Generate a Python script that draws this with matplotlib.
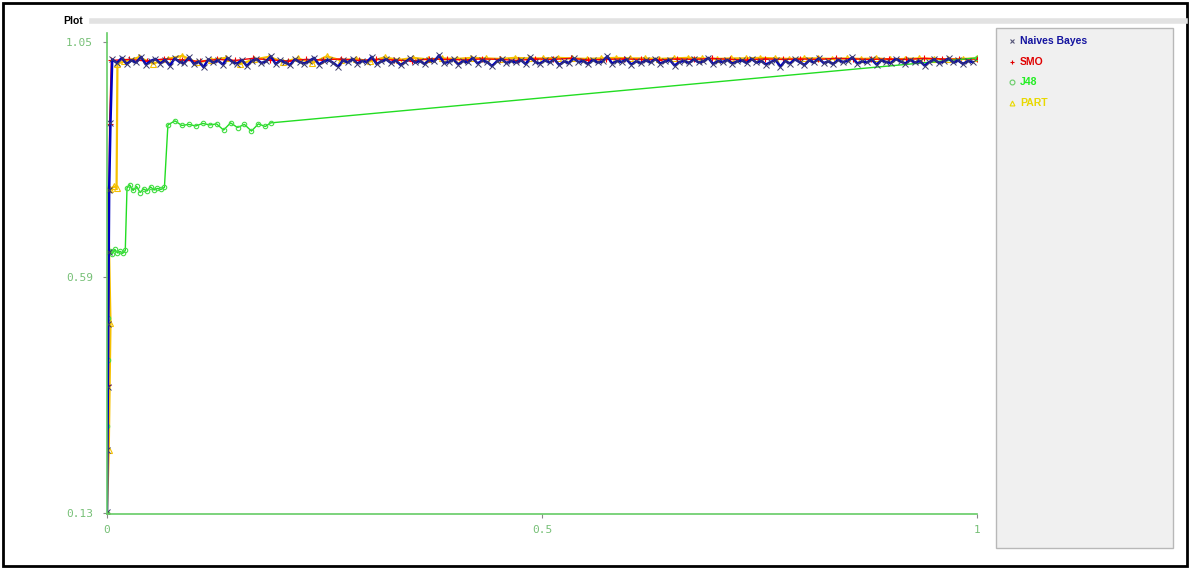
import matplotlib
matplotlib.use("Agg")
import matplotlib.pyplot as plt
import numpy as np
from matplotlib.lines import Line2D
from matplotlib.patches import Rectangle

W, H = 1190, 569

# --- data ---
series_names = ["Naives Bayes", "SMO", "J48", "PART"]

nb_head_x = [0.0, 0.0005, 0.001, 0.0015, 0.002, 0.0025, 0.004]
nb_head_y = [0.132, 0.253, 0.376, 0.50, 0.64, 0.761, 0.892]
nb_tail_y = [
    1.016, 1.009, 1.019, 1.007, 1.014, 1.010, 1.021, 1.006, 1.013, 1.017,
    1.008, 1.015, 1.004, 1.018, 1.011, 1.009, 1.020, 1.007, 1.012, 1.001,
    1.016, 1.010, 1.014, 1.006, 1.019, 1.011, 1.008, 1.015, 1.003, 1.013,
    1.017, 1.009, 1.012, 1.022, 1.007, 1.014, 1.010, 1.005, 1.016, 1.011,
    1.008, 1.013, 1.019, 1.006, 1.012, 1.015, 1.009, 1.002, 1.014, 1.010,
    1.017, 1.008, 1.013, 1.011, 1.021, 1.007, 1.012, 1.016, 1.009, 1.014,
    1.005, 1.011, 1.018, 1.010, 1.013, 1.007, 1.015, 1.012, 1.024, 1.009,
    1.011, 1.016, 1.006, 1.013, 1.010, 1.019, 1.008, 1.014, 1.011, 1.003,
    1.012, 1.017, 1.009, 1.013, 1.010, 1.015, 1.007, 1.020, 1.011, 1.008,
    1.014, 1.010, 1.016, 1.005, 1.012, 1.009, 1.018, 1.011, 1.013, 1.007,
    1.015, 1.010, 1.012, 1.022, 1.008, 1.013, 1.011, 1.016, 1.006, 1.012,
    1.009, 1.014, 1.010, 1.017, 1.008, 1.012, 1.015, 1.004, 1.011, 1.013,
    1.009, 1.016, 1.010, 1.012, 1.019, 1.007, 1.013, 1.011, 1.015, 1.008,
    1.012, 1.014, 1.009, 1.017, 1.010, 1.013, 1.006, 1.011, 1.015, 1.002,
    1.013, 1.008, 1.016, 1.011, 1.005, 1.014, 1.010, 1.018, 1.009, 1.012,
    1.007, 1.015, 1.011, 1.013, 1.020, 1.008, 1.012, 1.010, 1.016, 1.006,
    1.014, 1.011, 1.009, 1.017, 1.012, 1.008, 1.015, 1.010, 1.013, 1.004,
    1.011, 1.016, 1.009, 1.012, 1.018, 1.010, 1.014, 1.007, 1.013, 1.011,
]

smo_head_x = [0.0, 0.001, 0.002, 0.003]
smo_head_y = [0.13, 0.38, 0.64, 0.89]
smo_tail_y = [
    1.014, 1.016, 1.013, 1.017, 1.015, 1.012, 1.016, 1.014, 1.018, 1.015,
    1.013, 1.016, 1.015, 1.017, 1.014, 1.016, 1.015, 1.013, 1.017, 1.016,
    1.015, 1.017, 1.016, 1.014, 1.017, 1.016, 1.018, 1.015, 1.016, 1.017,
    1.016, 1.015, 1.017, 1.016, 1.018, 1.016, 1.015, 1.017, 1.016, 1.017,
    1.016, 1.018, 1.017, 1.016, 1.017, 1.016, 1.018, 1.017, 1.016, 1.017,
]

j48_x = [0.0, 0.0005, 0.001, 0.0015, 0.002, 0.004, 0.006, 0.009, 0.012, 0.015,
         0.018, 0.021, 0.023, 0.026, 0.030, 0.034, 0.038, 0.042, 0.046, 0.050,
         0.054, 0.058, 0.062, 0.066, 0.070, 0.078, 0.086, 0.094, 0.102, 0.110,
         0.118, 0.126, 0.134, 0.142, 0.150, 0.158, 0.166, 0.174, 0.182, 0.188,
         1.0]
j48_y = [0.13, 0.30, 0.429, 0.511, 0.640, 0.642, 0.636, 0.645, 0.638, 0.641,
         0.637, 0.643, 0.765, 0.771, 0.760, 0.768, 0.756, 0.763, 0.759, 0.767,
         0.761, 0.764, 0.762, 0.766, 0.888, 0.896, 0.887, 0.889, 0.886, 0.891,
         0.888, 0.890, 0.878, 0.892, 0.883, 0.889, 0.876, 0.890, 0.885, 0.892,
         1.019]

part_head_x = [0.0, 0.002, 0.004, 0.001, 0.004, 0.008, 0.011, 0.012]
part_head_y = [0.13, 0.253, 0.501, 0.765, 0.762, 0.768, 0.765, 1.008]
part_tail_y = [
    1.012, 1.020, 1.008, 1.017, 1.023, 1.010, 1.015, 1.019, 1.007, 1.016,
    1.021, 1.011, 1.018, 1.009, 1.022, 1.014, 1.017, 1.012, 1.020, 1.015,
    1.019, 1.016, 1.018, 1.017, 1.019, 1.018, 1.017, 1.019, 1.018, 1.018,
    1.019, 1.018, 1.017, 1.018, 1.019, 1.018, 1.018, 1.017, 1.018, 1.019,
    1.018, 1.017, 1.018, 1.018, 1.019, 1.018, 1.017, 1.018, 1.018, 1.017,
    1.018, 1.017, 1.018, 1.016, 1.017, 1.018, 1.017, 1.016, 1.017, 1.018,
]

y_ticks = [0.13, 0.59, 1.05]
y_tick_labels = ["0.13", "0.59", "1.05"]
x_ticks = [0, 0.5, 1]
x_tick_labels = ["0", "0.5", "1"]

# tail samples are evenly spaced along x
nb_x = nb_head_x + list(np.linspace(0.006, 0.995, len(nb_tail_y)))
nb_y = nb_head_y + nb_tail_y
smo_x = smo_head_x + list(np.linspace(0.005, 1.0, len(smo_tail_y)))
smo_y = smo_head_y + smo_tail_y
part_x = part_head_x + list(np.linspace(0.02, 1.0, len(part_tail_y)))
part_y = part_head_y + part_tail_y

C_NB, C_SMO, C_J48, C_PART = "#0000c0", "#ff0000", "#22dd22", "#f5c000"
AXIS_GREEN = "#66cc66"


def fx(px):
    return px / W


def fy(py):
    return 1 - py / H


fig = plt.figure(figsize=(W / 100, H / 100), dpi=100)

# frame / panels
fig.patches.append(Rectangle((fx(3), fy(566)), fx(1184), 563 / H, transform=fig.transFigure,
                             fill=False, ec="black", lw=2, zorder=0))
fig.add_artist(Line2D([fx(92), fx(1185)], [fy(21), fy(21)], color="#e2e2e2", lw=4))
fig.text(fx(63), fy(21), "Plot", fontsize=7.5, fontweight="bold", va="center", ha="left",
         family="Liberation Sans")
fig.patches.append(Rectangle((fx(996), fy(548)), 177 / W, 520 / H, transform=fig.transFigure,
                             fc="#f0f0f0", ec="#b8b8b8", lw=1, zorder=0))

ax = fig.add_axes([fx(107), fy(514), 870 / W, 481 / H])
ax.set_xlim(0, 1)
ax.set_ylim(0.128, 1.0676)

ax.plot(part_x, part_y, color=C_PART, lw=1.6, marker="^", ms=4, mfc="none", mec=C_PART, mew=0.8)
ax.plot(smo_x, smo_y, color=C_SMO, lw=1.0, marker="+", ms=4.5, mec=C_SMO, mew=0.8)
ax.plot(j48_x, j48_y, color=C_J48, lw=1.0, marker="o", ms=3.2, mfc="none", mec="#44dd44", mew=0.8)
ax.plot(nb_x, nb_y, color=C_NB, lw=1.8, marker="x", ms=4.5, mec="#3a3a6a", mew=0.7)

for s in ["top", "right"]:
    ax.spines[s].set_visible(False)
for s in ["left", "bottom"]:
    ax.spines[s].set_color(AXIS_GREEN)
    ax.spines[s].set_linewidth(1.2)

ax.set_yticks(y_ticks)
ax.set_yticklabels(y_tick_labels)
ax.set_xticks(x_ticks)
ax.set_xticklabels(x_tick_labels)
ax.tick_params(colors="#888888", length=3, width=0.8, labelsize=8, pad=7)
ax.tick_params(axis="x", pad=5)
for lab in ax.get_xticklabels() + ax.get_yticklabels():
    lab.set_family("DejaVu Sans Mono")
    lab.set_color("#77c077")

# legend panel entries
legend_markers = ["x", "+", "o", "^"]
legend_text_colors = ["#1414a0", "#e00000", "#22ee22", "#e8d800"]
legend_mark_colors = ["#555577", "#e00000", "#66cc66", "#e8d800"]
for i, name in enumerate(series_names):
    py = 41 + i * 20.5
    fig.add_artist(Line2D([fx(1012)], [fy(py)], marker=legend_markers[i], ms=3.5, ls="none",
                          mfc="none", mec=legend_mark_colors[i], mew=0.8))
    fig.text(fx(1020), fy(py), name, fontsize=7.5, fontweight="bold", va="center", ha="left",
             color=legend_text_colors[i], family="Liberation Sans")

fig.savefig("out.png", dpi=100)
